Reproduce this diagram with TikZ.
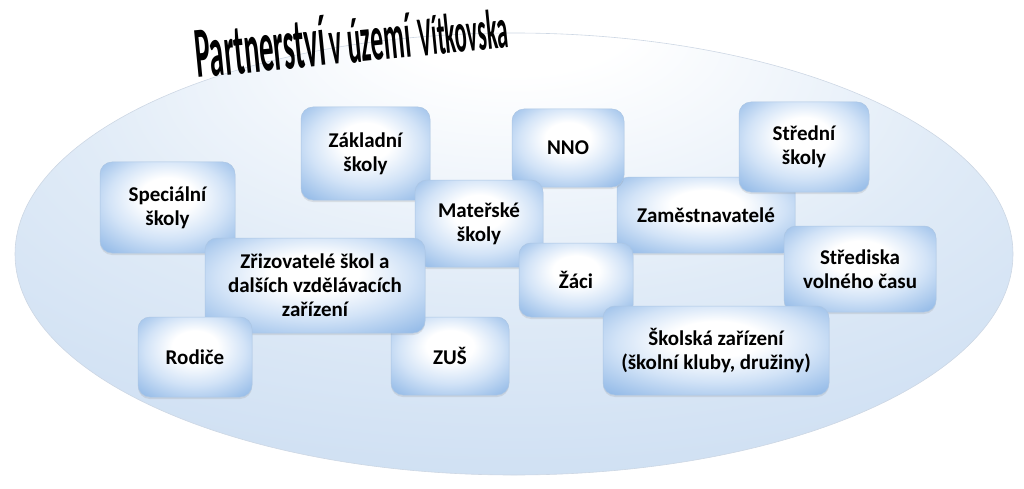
\documentclass[tikz,border=0pt]{standalone}
\usepackage{fontspec}
\setmainfont{Carlito}
\usetikzlibrary{shadows}

\definecolor{ellpale}{RGB}{224,235,247}
\definecolor{ellblue}{RGB}{188,211,238}
\definecolor{ellline}{RGB}{205,215,228}
\definecolor{boxlight}{RGB}{210,227,247}
\definecolor{boxblue}{RGB}{150,188,232}
\definecolor{boxdeep}{RGB}{105,152,215}
\definecolor{boxline}{RGB}{172,198,228}

\pgfdeclareradialshading{ellglow}{\pgfpoint{0bp}{30bp}}{%
  color(0bp)=(white); color(6bp)=(white); color(22bp)=(ellpale);
  color(50bp)=(ellblue)}
\pgfdeclareradialshading{boxglow}{\pgfpoint{0bp}{8bp}}{%
  color(0bp)=(white); color(10bp)=(white); color(22bp)=(boxlight);
  color(35bp)=(boxblue); color(50bp)=(boxdeep)}

\begin{document}
\begin{tikzpicture}[x=1pt, y=-1pt,
  partner/.style={rectangle, rounded corners=12pt, draw=boxline, line width=0.5pt,
    shading=boxglow, align=center, inner sep=2pt, text=black,
    font=\bfseries\fontsize{21}{24}\selectfont,
    drop shadow={opacity=0.18, shadow xshift=0pt, shadow yshift=-2pt}}]

\useasboundingbox (0,0) rectangle (1024,489);

%------------------ BACKGROUND ELLIPSE ------------------%
\path[draw=ellline, line width=0.6pt, shading=ellglow]
  (514,254) ellipse [x radius=499, y radius=221];

% title
\node[anchor=base west, rotate=5.6, inner sep=0] (title) at (197,78)
  {\scalebox{0.40}[1]{\bfseries\fontsize{72}{72}\selectfont Partnerství\hspace{10pt}%
   \fontsize{64}{64}\selectfont v území\hspace{20pt}%
   \fontsize{56}{56}\selectfont Vítkovska}};

%------------------ PARTNERS ------------------%
\node[partner, minimum width=135pt, minimum height=91pt] (SpS) at (167.5,207.5) {Speciální\\školy};
\node[partner, minimum width=129pt, minimum height=93pt] (ZS)  at (365.5,153.5) {Základní\\školy};
\node[partner, minimum width=178pt, minimum height=76pt] (Zam) at (706,215) {Zaměstnavatelé};
\node[partner, minimum width=112pt, minimum height=78pt] (NNO) at (568,148) {NNO};
\node[partner, minimum width=130pt, minimum height=90pt] (SS)  at (804,147) {Střední\\školy};
\node[partner, minimum width=128pt, minimum height=87pt] (MS)  at (479,223.5) {Mateřské\\školy};
\node[partner, minimum width=118pt, minimum height=78pt] (ZUS) at (450,356) {ZUŠ};
\node[partner, minimum width=220pt, minimum height=95pt] (Zriz) at (315,285.5)
  {Zřizovatelé škol a\\dalších vzdělávacích\\zařízení};
\node[partner, minimum width=114pt, minimum height=80pt] (Rod) at (195,357) {Rodiče};
\node[partner, minimum width=114pt, minimum height=74pt] (Zac) at (576,280) {Žáci};
\node[partner, minimum width=152pt, minimum height=86pt] (SVC) at (860,269) {Střediska\\volného času};
\node[partner, minimum width=226pt, minimum height=89pt] (SZ)  at (716,350.5)
  {Školská zařízení\\(školní kluby, družiny)};

\end{tikzpicture}
\end{document}
